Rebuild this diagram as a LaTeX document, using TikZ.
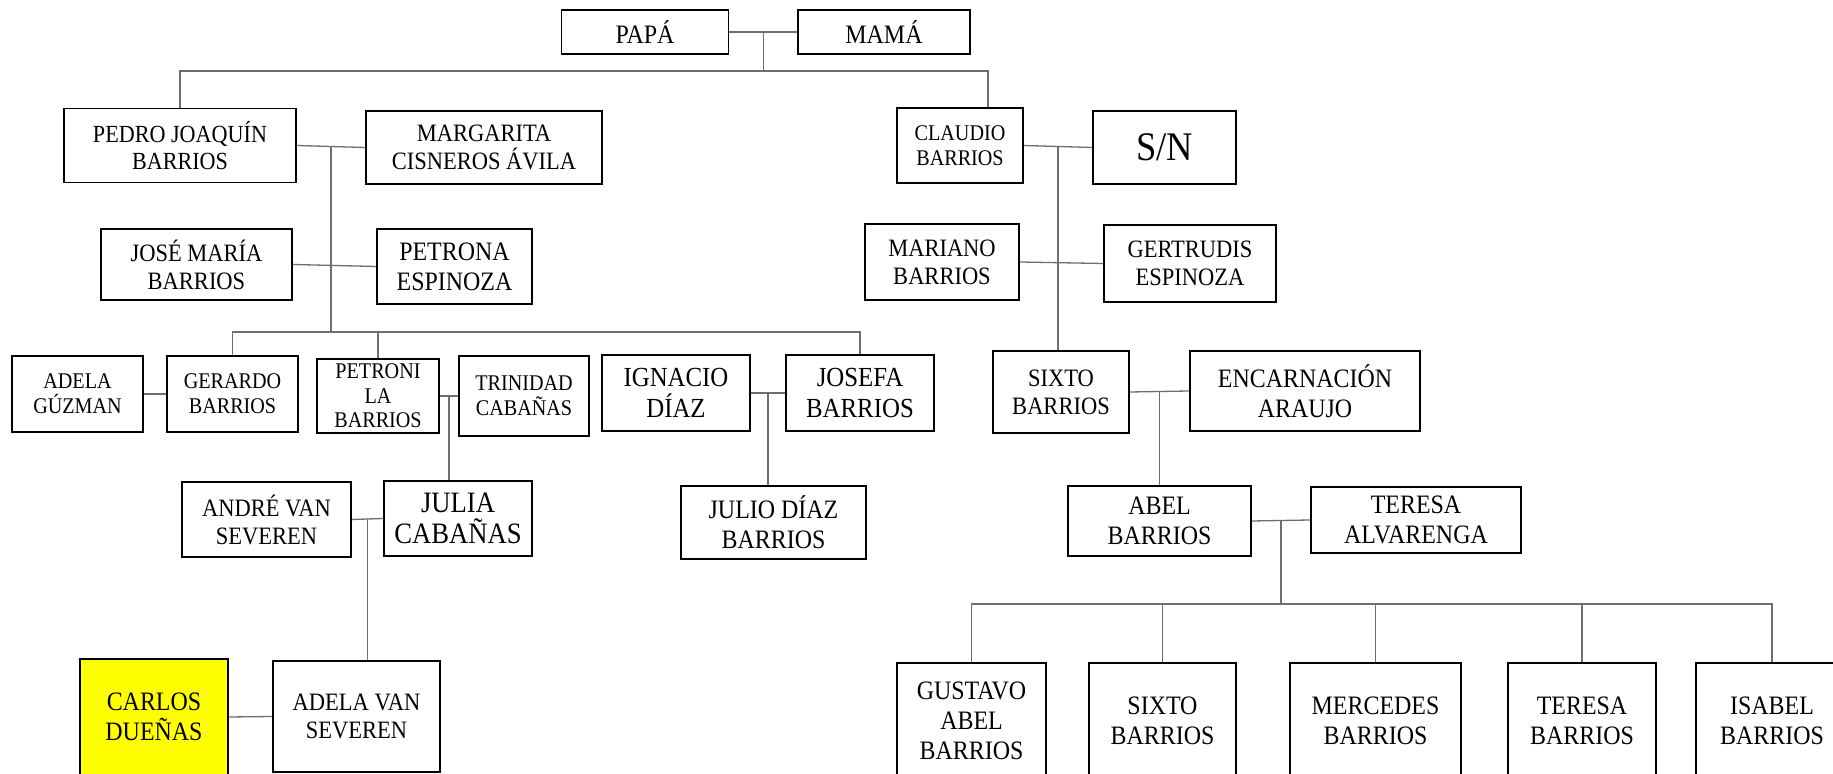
\documentclass[tikz,border=0pt]{standalone}
\usepackage{fontspec}
\setmainfont{Liberation Serif}[FakeStretch=0.9]
\usetikzlibrary{calc}
\definecolor{linkgray}{RGB}{110,110,110}
\definecolor{highlight}{RGB}{255,255,0}

\begin{document}
\begin{tikzpicture}[x=0.5pt, y=-0.5pt,
    person/.style={draw=black, line width=0.9pt, align=center, inner sep=1pt, text=black},
    sz/.style 2 args={minimum width=#1*0.5pt, minimum height=#2*0.5pt},
    fhuge/.style={font=\fontsize{14.8}{15.8}\selectfont},
    flarge/.style={font=\fontsize{13.8}{15.5}\selectfont},
    fbig/.style={font=\fontsize{13.3}{15}\selectfont},
    fmid/.style={font=\fontsize{12.5}{14}\selectfont},
    fsmall/.style={font=\fontsize{11.2}{12.5}\selectfont},
    link/.style={draw=linkgray, line width=0.65pt}]

  % Frame of the picture
  \useasboundingbox (0,0) rectangle (1833,774);
  \fill[white] (0,0) rectangle (1833,774);
  \clip (0,0) rectangle (1833,774);

  % Grandparents
  \node[person, fbig, sz={167}{44}] (papa) at (645,32) {PAPÁ};
  \node[person, fbig, sz={172}{44}] (mama) at (884,32) {MAMÁ};

  % Left branch
  \node[person, font=\fontsize{12.3}{13.6}\selectfont, sz={232}{74}] (pedro) at (180,145.5) {PEDRO JOAQUÍN\\BARRIOS};
  \node[person, fmid, sz={236}{73}] (margarita) at (484,147.5) {MARGARITA\\CISNEROS ÁVILA};
  \node[person, fmid, sz={191}{71}] (jose) at (196.5,264.5) {JOSÉ MARÍA\\BARRIOS};
  \node[person, fbig, sz={155}{75}] (petrona) at (454.5,266.5) {PETRONA\\ESPINOZA};
  \node[person, fsmall, sz={131}{76}] (adelag) at (77.5,394) {ADELA\\GÚZMAN};
  \node[person, fsmall, sz={131}{76}] (gerardo) at (232.5,394) {GERARDO\\BARRIOS};
  \node[person, font=\fontsize{11.2}{12.2}\selectfont, sz={122}{74}] (petronila) at (378,396) {PETRONI\\LA\\BARRIOS};
  \node[person, fsmall, sz={130}{80}] (trinidad) at (524,396) {TRINIDAD\\CABAÑAS};
  \node[person, flarge, sz={148}{76}] (ignacio) at (676,393) {IGNACIO\\DÍAZ};
  \node[person, flarge, sz={148}{76}] (josefa) at (860,393) {JOSEFA\\BARRIOS};
  \node[person, fbig, sz={185}{73}] (julio) at (773.5,522.5) {JULIO DÍAZ\\BARRIOS};
  \node[person, fmid, sz={169}{75}] (andre) at (266.5,519.5) {ANDRÉ VAN\\SEVEREN};
  \node[person, fhuge, sz={148}{75}] (julia) at (458,518.5) {JULIA\\CABAÑAS};
  \node[person, fbig, sz={148}{116}, fill=highlight] (carlos) at (154,717) {CARLOS\\DUEÑAS};
  \node[person, fmid, sz={167}{111}] (adelav) at (356.5,716.5) {ADELA VAN\\SEVEREN};

  % Right branch
  \node[person, fsmall, sz={126}{75}] (claudio) at (960,145.5) {CLAUDIO\\BARRIOS};
  \node[person, font=\fontsize{20.3}{22}\selectfont, sz={143}{73}] (sn) at (1164.5,147.5) {S/N};
  \node[person, fmid, sz={154}{76}] (mariano) at (942,262) {MARIANO\\BARRIOS};
  \node[person, fmid, sz={172}{77}] (gertrudis) at (1190,263.5) {GERTRUDIS\\ESPINOZA};
  \node[person, fmid, sz={136}{82}] (sixto) at (1061,392) {SIXTO\\BARRIOS};
  \node[person, fbig, sz={230}{80}] (encarnacion) at (1305,391) {ENCARNACIÓN\\ARAUJO};
  \node[person, fbig, sz={183}{70}] (abel) at (1159.5,521) {ABEL\\BARRIOS};
  \node[person, fbig, sz={210}{66}] (teresa) at (1416,520) {TERESA\\ALVARENGA};

  % Children of Abel and Teresa
  \foreach \name/\cx/\w/\txt in {gustavo/971.5/149/{GUSTAVO\\ABEL\\BARRIOS},
      sixtob/1162.5/147/{SIXTO\\BARRIOS}, mercedes/1375.5/171/{MERCEDES\\BARRIOS},
      teresab/1582/148/{TERESA\\BARRIOS}, isabel/1772/152/{ISABEL\\BARRIOS}} {
    \node[person, fbig, sz={\w}{116}] (\name) at (\cx,721) {\txt};
  }

  % Couples
  \foreach \a/\b in {papa/mama, pedro/margarita, jose/petrona, adelag/gerardo,
      petronila/trinidad, ignacio/josefa, andre/julia, carlos/adelav,
      claudio/sn, mariano/gertrudis, sixto/encarnacion, abel/teresa} {
    \draw[link] (\a.east) -- (\b.west);
  }

  % Points where the children hang from
  \coordinate (pm) at ($(papa.east)!0.5!(mama.west)$);
  \coordinate (pmg) at ($(pedro.east)!0.5!(margarita.west)$);
  \coordinate (ptr) at ($(petronila.east)!0.5!(trinidad.west)$);
  \coordinate (ijo) at ($(ignacio.east)!0.5!(josefa.west)$);
  \coordinate (aju) at ($(andre.east)!0.5!(julia.west)$);
  \coordinate (csn) at ($(claudio.east)!0.5!(sn.west)$);
  \coordinate (sen) at ($(sixto.east)!0.5!(encarnacion.west)$);
  \coordinate (abt) at ($(abel.east)!0.5!(teresa.west)$);
  \coordinate (topbar) at (988,71);
  \coordinate (sibbar) at (332,332);
  \coordinate (kidsbar) at (abt |- 0,604);

  % Top bar
  \draw[link] (pm) -- (pm |- topbar);
  \draw[link] (pedro.north) |- (topbar) -- (topbar |- claudio.north);

  % Left descent
  \draw[link] (pmg) -- (pmg |- sibbar);
  \draw[link] (gerardo.north) |- (sibbar) -| (josefa.north);
  \draw[link] (petronila.north) -- (petronila.north |- sibbar);
  \draw[link] (ptr) -- (ptr |- julia.north);
  \draw[link] (ijo) -- (ijo |- julio.north);
  \draw[link] (aju) -- (aju |- adelav.north);

  % Right descent
  \draw[link] (csn) -- (csn |- sixto.north);
  \draw[link] (sen) -- (sen |- abel.north);
  \draw[link] (abt) -- (kidsbar);
  \draw[link] (gustavo.north) |- (kidsbar) -| (isabel.north);
  \foreach \k in {sixtob, mercedes, teresab} {
    \draw[link] (\k.north) -- (\k.north |- kidsbar);
  }
\end{tikzpicture}
\end{document}
